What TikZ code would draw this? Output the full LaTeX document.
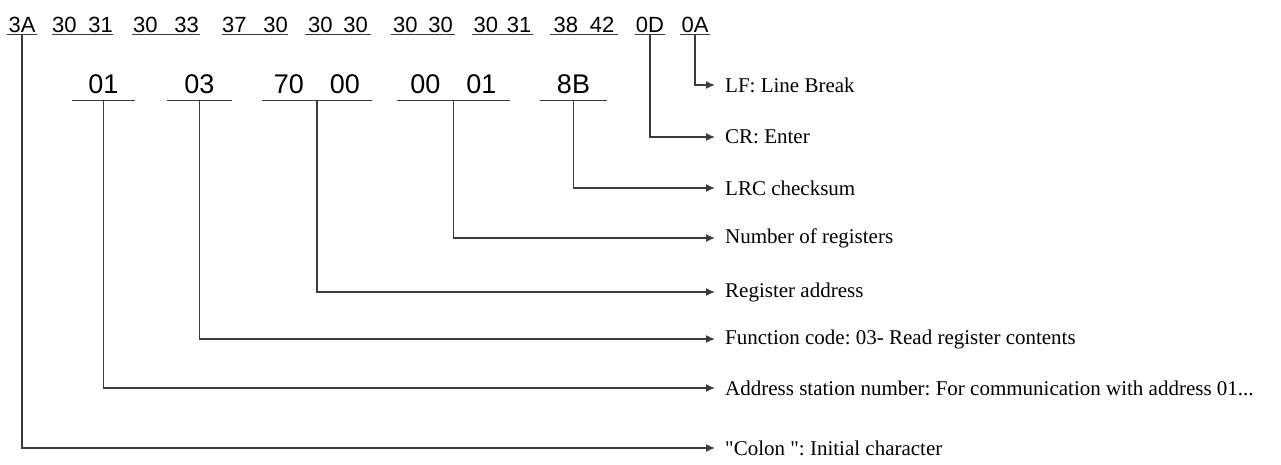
\documentclass[tikz,border=0pt]{standalone}
\usepackage{fontspec}
\setmainfont{Liberation Serif}
\newfontfamily\hexfont{Liberation Sans}
\usetikzlibrary{arrows.meta, positioning}
\definecolor{linec}{HTML}{3C3C3C}
\frenchspacing

\begin{document}
\begin{tikzpicture}[x=1pt, y=-1pt,
  hexa/.style={font=\hexfont\fontsize{22}{22}\selectfont, anchor=base,
               inner xsep=0pt, inner ysep=2pt},
  hexb/.style={font=\hexfont\fontsize{27}{27}\selectfont, anchor=base,
               inner xsep=0pt, inner ysep=7pt},
  lbl/.style={font=\fontsize{21}{21}\selectfont, anchor=west, inner xsep=10pt},
  uline/.style={linec, line width=1.4pt},
  conn/.style={linec, line width=1.4pt, -{Latex[length=9pt, width=8pt]}}]
  \useasboundingbox (0,0) rectangle (1281,464);
  % ASCII frame
  \node[hexa, minimum width=30pt] (t1) at (22,32) {3A};
  \node[hexa, minimum width=59pt] (t2) at (82.5,32) {30\hspace{12pt}31};
  \node[hexa, minimum width=68pt] (t3) at (166,32) {30\hspace{17pt}33};
  \node[hexa, minimum width=66pt] (t4) at (255,32) {37\hspace{17pt}30};
  \node[hexa, minimum width=66pt] (t5) at (338,32) {30\hspace{11pt}30};
  \node[hexa, minimum width=64pt] (t6) at (423,32) {30\hspace{11pt}30};
  \node[hexa, minimum width=61pt] (t7) at (502.5,32) {30\hspace{9pt}31};
  \node[hexa, minimum width=68pt] (t8) at (584,32) {38\hspace{12pt}42};
  \node[hexa, minimum width=30pt] (t9) at (650,32) {0D};
  \node[hexa, minimum width=30pt] (t10) at (695,32) {0A};
  % decoded bytes
  \node[hexb, minimum width=63pt] (s1) at (103.5,93) {01};
  \node[hexb, minimum width=65pt] (s2) at (199.5,93) {03};
  \node[hexb, minimum width=110pt] (s3) at (317,93) {70\hspace{26pt}00};
  \node[hexb, minimum width=113pt] (s4) at (453.5,93) {00\hspace{26pt}01};
  \node[hexb, minimum width=67pt] (s5) at (573.5,93) {8B};
  \foreach \n in {t1,t2,t3,t4,t5,t6,t7,t8,t9,t10,s1,s2,s3,s4,s5}
    \draw[uline] (\n.south west) -- (\n.south east);
  % meanings
  \node[lbl] (lLF) at (715,85) {LF: Line Break};
  \node[lbl] (lCR) at (715,137) {CR: Enter};
  \node[lbl] (lLRC) at (715,188) {LRC checksum};
  \node[lbl] (lNum) at (715,238) {Number of registers};
  \node[lbl] (lReg) at (715,292) {Register address};
  \node[lbl] (lFun) at (715,339) {Function code: 03- Read register contents};
  \node[lbl] (lAdr) at (715,388) {Address station number: For communication with address 01...};
  \node[lbl] (lCol) at (715,448) {\textquotedbl Colon \textquotedbl: Initial character};
  \draw[conn] (t10.south) |- (lLF.west);
  \draw[conn] (t9.south) |- (lCR.west);
  \draw[conn] (s5.south) |- (lLRC.west);
  \draw[conn] (s4.south) |- (lNum.west);
  \draw[conn] (s3.south) |- (lReg.west);
  \draw[conn] (s2.south) |- (lFun.west);
  \draw[conn] (s1.south) |- (lAdr.west);
  \draw[conn] (t1.south) |- (lCol.west);
\end{tikzpicture}
\end{document}
